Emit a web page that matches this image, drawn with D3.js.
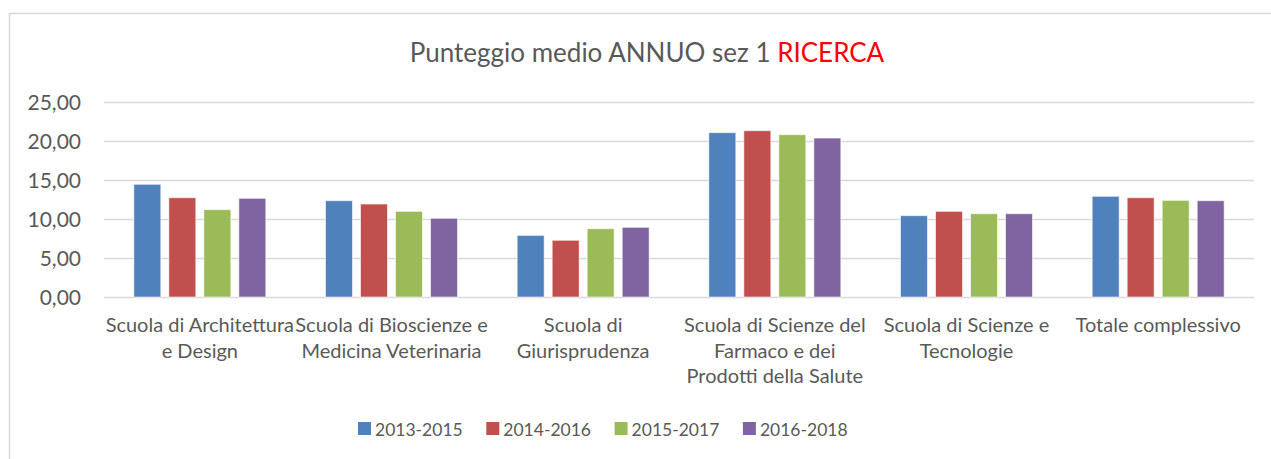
<!DOCTYPE html>
<html>
<head>
<meta charset="utf-8">
<script src="https://cdn.jsdelivr.net/npm/d3@7"></script>
<style>
  body { margin: 0; background: #fff; }
  text { font-family: Lato, "Open Sans", sans-serif; fill: #595959; }
</style>
</head>
<body>
<svg id="chart" width="1271" height="459"></svg>
<script>
// data
var categories = [
	"Scuola di Architettura\ne Design",
	"Scuola di Bioscienze e\nMedicina Veterinaria",
	"Scuola di\nGiurisprudenza",
	"Scuola di Scienze del\nFarmaco e dei\nProdotti della Salute",
	"Scuola di Scienze e\nTecnologie",
	"Totale complessivo"
];
var seriesNames = ["2013-2015", "2014-2016", "2015-2017", "2016-2018"];
var s2013 = [14.45, 12.35, 7.90, 21.07, 10.43, 12.91];
var s2014 = [12.73, 11.92, 7.27, 21.32, 10.98, 12.73];
var s2015 = [11.20, 10.98, 8.76, 20.81, 10.68, 12.39];
var s2016 = [12.65, 10.09, 8.93, 20.38, 10.68, 12.35];
var seriesValues = [s2013, s2014, s2015, s2016];
var colors = ["#4F81BD", "#C0504D", "#9BBB59", "#8064A2"];
var yTicks = [0, 5, 10, 15, 20, 25];

var svg = d3.select("#chart");

// outer chart border (runs off the right and bottom of the picture)
svg.append("rect")
	.attr("x", 9.5).attr("y", 13.5)
	.attr("width", 1300).attr("height", 500)
	.attr("fill", "none")
	.attr("stroke", "#D9D9D9")
	.attr("stroke-width", 1.5);

// title
var title = svg.append("text")
	.attr("x", 647).attr("y", 62)
	.attr("text-anchor", "middle")
	.style("font-size", "26px");
title.append("tspan").text("Punteggio medio ANNUO sez 1 ");
title.append("tspan").style("fill", "#FF0000").text("RICERCA");

var plot = { left: 104, right: 1254, top: 102, bottom: 297 };

var x = d3.scaleBand()
	.domain(d3.range(categories.length))
	.range([plot.left, plot.right]);

var xs = d3.scaleBand()
	.domain(d3.range(seriesNames.length))
	.range([0, x.bandwidth()])
	.paddingInner(0.229)
	.paddingOuter(0.852);

var y = d3.scaleLinear()
	.domain([0, 25])
	.range([plot.bottom, plot.top]);

// gridlines + y labels
var yAxis = d3.axisLeft(y)
	.tickValues(yTicks)
	.tickSize(-(plot.right - plot.left))
	.tickPadding(23)
	.tickFormat(function(d) { return d3.format(".2f")(d).replace(".", ","); });

var gy = svg.append("g")
	.attr("transform", "translate(" + plot.left + ",0)")
	.call(yAxis);
gy.select(".domain").remove();
gy.selectAll(".tick line")
	.attr("stroke", "#D9D9D9")
	.attr("stroke-width", 1.5);
gy.selectAll(".tick text")
	.style("font-size", "21px")
	.attr("fill", "#595959")
	.attr("dy", "0.36em");

// bars
var groups = svg.append("g").selectAll("g")
	.data(categories)
	.enter().append("g")
	.attr("transform", function(d, i) { return "translate(" + x(i) + ",0)"; });

groups.selectAll("rect")
	.data(function(d, i) { return seriesValues.map(function(s, k) { return { k: k, v: s[i] }; }); })
	.enter().append("rect")
	.attr("x", function(d) { return xs(d.k); })
	.attr("width", xs.bandwidth())
	.attr("y", function(d) { return y(d.v); })
	.attr("height", function(d) { return y(0) - y(d.v); })
	.attr("fill", function(d) { return colors[d.k]; })
	.attr("stroke", "rgba(255,255,255,0.6)")
	.attr("stroke-width", 1);

// category labels (wrapped as in the original)
var catLabels = svg.append("g").selectAll("text")
	.data(categories)
	.enter().append("text")
	.attr("text-anchor", "middle")
	.style("font-size", "20px")
	.attr("transform", function(d, i) { return "translate(" + (x(i) + x.bandwidth() / 2) + ",332)"; });

catLabels.selectAll("tspan")
	.data(function(d) { return d.split("\n"); })
	.enter().append("tspan")
	.attr("x", 0)
	.attr("y", function(d, j) { return j * 25.5; })
	.text(function(d) { return d; });

// legend
var legend = svg.append("g").selectAll("g")
	.data(seriesNames)
	.enter().append("g")
	.attr("transform", function(d, i) { return "translate(" + (358 + i * 128.3) + ",0)"; });

legend.append("rect")
	.attr("x", 0).attr("y", 422)
	.attr("width", 13).attr("height", 13)
	.attr("fill", function(d, i) { return colors[i]; });

legend.append("text")
	.attr("x", 17).attr("y", 436)
	.style("font-size", "17.5px")
	.text(function(d) { return d; });
</script>
</body>
</html>
